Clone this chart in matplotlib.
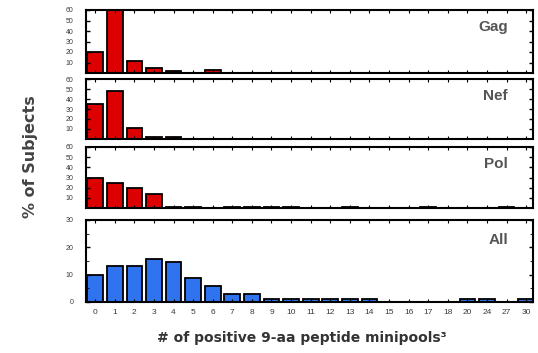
import matplotlib
matplotlib.use("Agg")
import matplotlib.pyplot as plt
import numpy as np

plt.rcParams['font.family'] = ['Liberation Sans', 'DejaVu Sans']

# categories on the x axis (number of positive minipools)
categories = ['0', '1', '2', '3', '4', '5', '6', '7', '8', '9', '10', '11', '12',
              '13', '14', '15', '16', '17', '18', '20', '24', '27', '30']

# % of subjects
gag = [20, 60, 11, 5, 2, 0, 3, 0, 0, 0, 0, 0, 0, 0, 0, 0, 0, 0, 0, 0, 0, 0, 0]
nef = [35, 48, 11, 2, 2, 0, 0, 0, 0, 0, 0, 0, 0, 0, 0, 0, 0, 0, 0, 0, 0, 0, 0]
pol = [30, 25, 20, 14, 1, 1, 0, 1, 1, 1, 1, 0, 0, 1, 0, 0, 0, 1, 0, 0, 0, 1, 0]
all_ = [10, 13, 13, 15.7, 14.6, 8.8, 5.8, 2.8, 2.8, 1.2, 1.2, 1.2, 1.2, 1.2, 1.2,
        0, 0, 0, 0, 1.2, 1.2, 0, 1.2]

panels = [("Gag", gag, 60, [10, 20, 30, 40, 50, 60], '#dc0000'),
          ("Nef", nef, 60, [10, 20, 30, 40, 50, 60], '#dc0000'),
          ("Pol", pol, 60, [10, 20, 30, 40, 50, 60], '#dc0000'),
          ("All", all_, 30, [0, 10, 20, 30], '#2f73ee')]

# (top, bottom) in pixels
boxes = [(10, 73), (79, 139), (147, 208), (220, 302)]
W, H = 538, 353
left, right = 86, 533

fig = plt.figure(figsize=(W / 100, H / 100), dpi=100)
x = np.arange(len(categories))
grey = '#3a3a3a'

for (name, vals, ymax, ticks, col), (top, bot) in zip(panels, boxes):
    ax = fig.add_axes([left / W, 1 - bot / H, (right - left) / W, (bot - top) / H])
    ax.bar(x, vals, width=0.8, color=col, edgecolor='black', linewidth=1.3)
    ax.set_xlim(-0.47, 22.35)
    ax.set_ylim(0, ymax)
    ax.set_yticks(ticks)
    ax.tick_params(axis='y', direction='in', right=True, length=3, width=1,
                   labelsize=5, labelcolor=grey, pad=9)
    ax.tick_params(axis='x', direction='in', top=True, length=2, width=0.8)
    for s in ax.spines.values():
        s.set_linewidth(1.5)
    ax.text(0.944, 0.84, name, transform=ax.transAxes, ha='right', va='top',
            fontsize=11, fontweight='bold', color='#555555')
    if name == "All":
        ax.set_xticks(x)
        ax.set_xticklabels(categories, fontsize=6, color=grey)
        ax.tick_params(axis='x', pad=5)
        ax.set_yticks([5, 15, 25], minor=True)
        ax.tick_params(axis='y', which='minor', direction='in', right=True, length=2)
    else:
        ax.set_xticks(x)
        ax.set_xticklabels([])

fig.text(31 / W, 1 - 157 / H, "% of Subjects", rotation=90, ha='center', va='center',
         fontsize=11.5, fontweight='bold', color='#444444', family='DejaVu Sans')
fig.text(302 / W, 1 - 338 / H, "# of positive 9-aa peptide minipools\u00b3", ha='center',
         va='center', fontsize=10, fontweight='bold', color='#333333', family='DejaVu Sans')

fig.savefig("out.png", dpi=100)
